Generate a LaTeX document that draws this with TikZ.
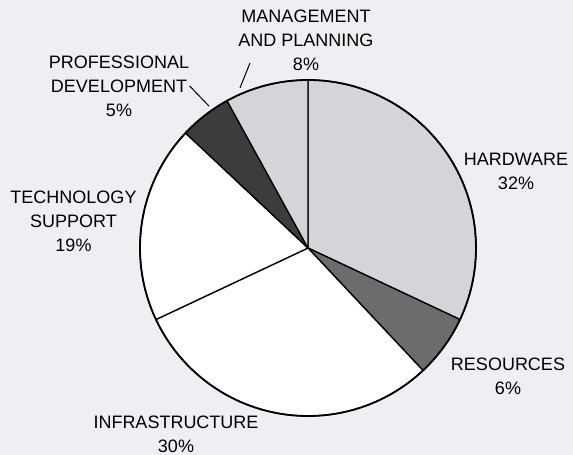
\documentclass[tikz,border=0pt]{standalone}
\usepackage{fontspec}
\setmainfont{Liberation Sans}
\usetikzlibrary{calc}
\definecolor{paper}{HTML}{EFEEF3}
\definecolor{lightslice}{HTML}{D5D4D9}
\definecolor{midslice}{HTML}{6C6C6E}
\definecolor{darkslice}{HTML}{3C3C3E}
\begin{document}
\begin{tikzpicture}[x=1pt,y=1pt,line width=1.3pt,line join=round,
slicelabel/.style={align=center,inner sep=0pt,font=\fontsize{18}{24}\selectfont},
leader/.style={line width=1pt}]
\useasboundingbox (0,0) rectangle (573,455);
\fill[paper] (0,0) rectangle (573,455);
\def\rad{168}
\coordinate (C) at (308,207);
% slices, clockwise from the top
\filldraw[fill=lightslice] (C) -- ++(90:\rad) arc[start angle=90,end angle=-25.2,radius=\rad] -- cycle;
\filldraw[fill=midslice] (C) -- ++(-25.2:\rad) arc[start angle=-25.2,end angle=-46.8,radius=\rad] -- cycle;
\filldraw[fill=white] (C) -- ++(-46.8:\rad) arc[start angle=-46.8,end angle=-154.8,radius=\rad] -- cycle;
\filldraw[fill=white] (C) -- ++(-154.8:\rad) arc[start angle=-154.8,end angle=-223.2,radius=\rad] -- cycle;
\filldraw[fill=darkslice] (C) -- ++(-223.2:\rad) arc[start angle=-223.2,end angle=-241.2,radius=\rad] -- cycle;
\filldraw[fill=lightslice] (C) -- ++(-241.2:\rad) arc[start angle=-241.2,end angle=-270,radius=\rad] -- cycle;
\draw[line width=1.8pt] (C) circle[radius=\rad];
% labels
\node[slicelabel] (mgmt) at (306,414.5) {MANAGEMENT\\AND PLANNING\\8\%};
\node[slicelabel] (prof) at (119,369) {PROFESSIONAL\\DEVELOPMENT\\5\%};
\node[slicelabel] (hard) at (516,284) {HARDWARE\\32\%};
\node[slicelabel] (tech) at (73.5,233.5) {TECHNOLOGY\\SUPPORT\\19\%};
\node[slicelabel] (res) at (508,78.5) {RESOURCES\\6\%};
\node[slicelabel] (infra) at (176,20.5) {INFRASTRUCTURE\\30\%};
% leaders
\coordinate (mgmtFoot) at (250,392);
\coordinate (mgmtTip) at ($(C)+(113:174)$);
\coordinate (profTip) at ($(C)+(124.9:173)$);
\draw[leader] (mgmtFoot) -- (mgmtTip);
\draw[leader] (prof.east) -- (profTip);
\end{tikzpicture}
\end{document}
